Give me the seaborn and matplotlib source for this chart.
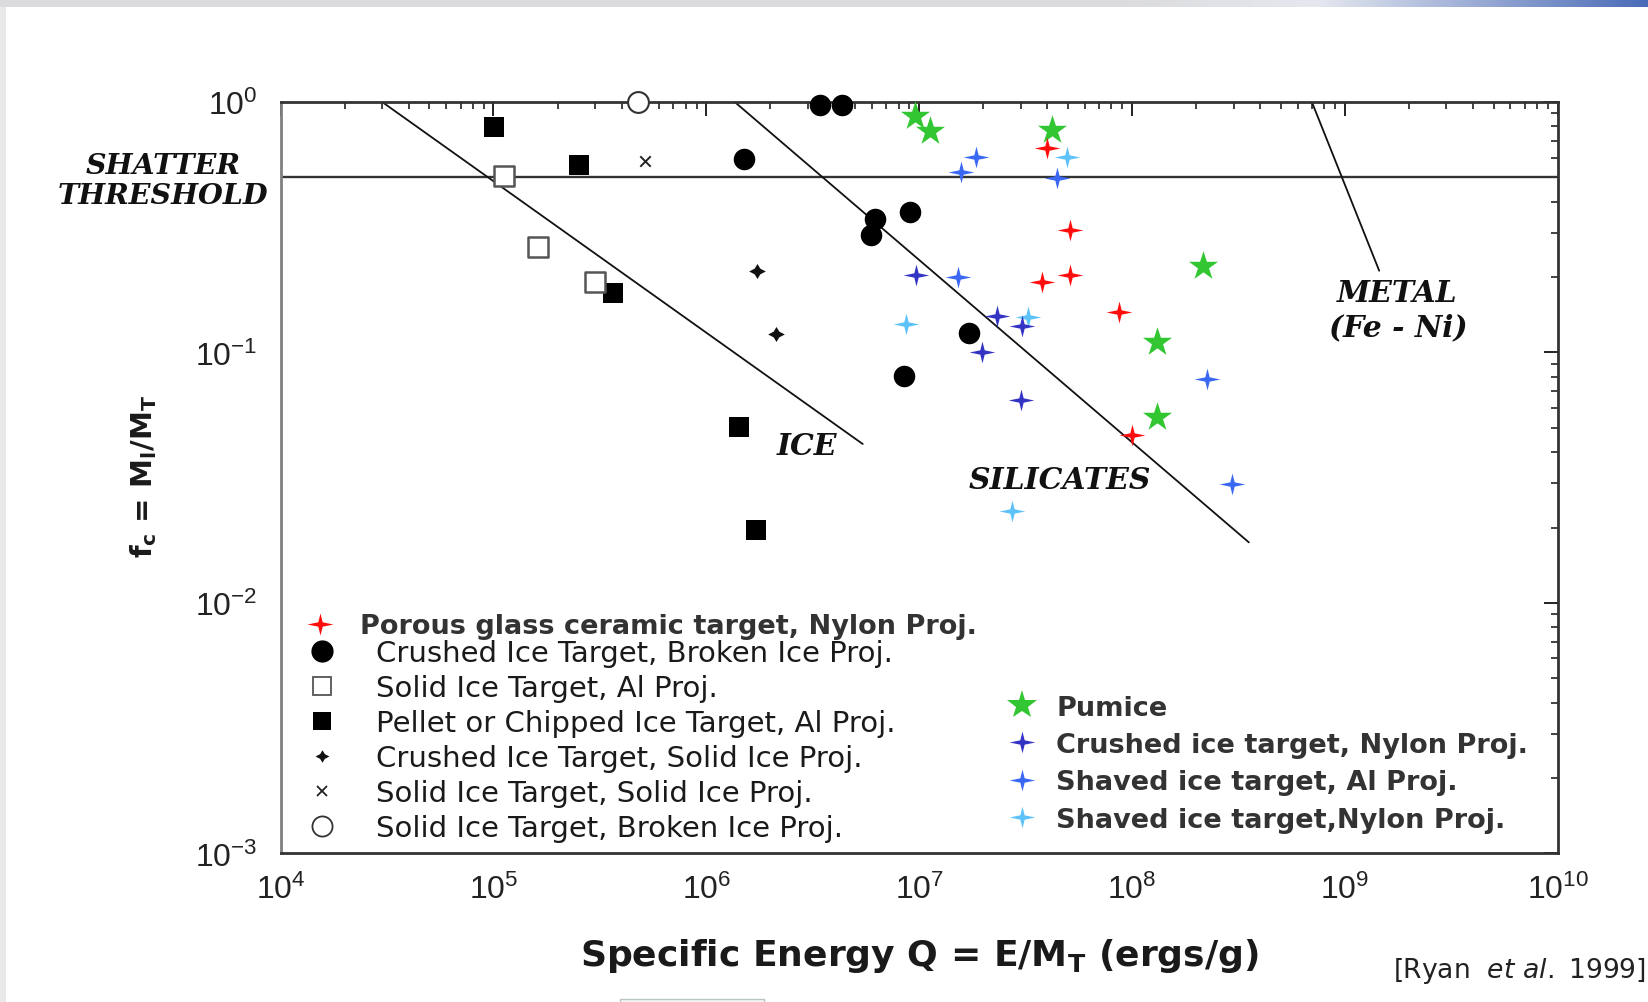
import numpy as np
import pandas as pd
import matplotlib
matplotlib.use("Agg")
import matplotlib.pyplot as plt
import seaborn as sns
from matplotlib.path import Path
from matplotlib.lines import Line2D
from matplotlib.patches import Rectangle

# ---------------- data ----------------
porous_q = [3.97e7, 5.13e7, 3.78e7, 5.13e7, 8.69e7, 1.00e8]
porous_f = [0.655, 0.308, 0.1905, 0.204, 0.1445, 0.0468]

pumice_q = [9.55e6, 1.13e7, 4.21e7, 2.15e8, 1.31e8, 1.31e8]
pumice_f = [0.882, 0.768, 0.775, 0.221, 0.1097, 0.0550]

crushed_nylon_q = [9.68e6, 2.31e7, 3.05e7, 1.98e7, 3.01e7]
crushed_nylon_f = [0.204, 0.1394, 0.128, 0.100, 0.0646]

shaved_al_q = [1.85e7, 1.57e7, 4.44e7, 1.52e7, 2.26e8, 2.95e8]
shaved_al_f = [0.601, 0.527, 0.497, 0.201, 0.0783, 0.0298]

shaved_nylon_q = [4.94e7, 8.71e6, 3.23e7, 2.72e7]
shaved_nylon_f = [0.601, 0.130, 0.138, 0.0232]

crushed_broken_q = [3.43e6, 4.32e6, 1.51e6, 6.21e6, 5.92e6, 9.06e6, 1.71e7, 8.47e6]
crushed_broken_f = [0.973, 0.973, 0.592, 0.341, 0.294, 0.365, 0.1195, 0.0802]

solid_al_q = [1.12e5, 1.62e5, 3.00e5]
solid_al_f = [0.508, 0.263, 0.1905]

pellet_al_q = [1.01e5, 2.52e5, 3.65e5, 1.42e6, 1.71e6]
pellet_al_f = [0.792, 0.560, 0.1726, 0.0502, 0.0196]

crushed_solid_q = [1.73e6, 2.13e6]
crushed_solid_f = [0.212, 0.1184]

solid_solid_q = [5.14e5]
solid_solid_f = [0.583]

solid_broken_q = [4.75e5]
solid_broken_f = [1.0]

# regime lines
shatter_f = 0.5
ice_line_q = [3.0e4, 5.43e6]
ice_line_f = [1.0, 0.0431]
sil_line_q = [1.36e6, 3.54e8]
sil_line_f = [1.0, 0.01745]
metal_line_q = [7.0e8, 1.45e9]
metal_line_f = [1.0, 0.212]

labels_left = [
    "Porous glass ceramic target, Nylon Proj.",
    "Crushed Ice Target, Broken Ice Proj.",
    "Solid Ice Target, Al Proj.",
    "Pellet or Chipped Ice Target, Al Proj.",
    "Crushed Ice Target, Solid Ice Proj.",
    "Solid Ice Target, Solid Ice Proj.",
    "Solid Ice Target, Broken Ice Proj.",
]
labels_right = [
    "Pumice",
    "Crushed ice target, Nylon Proj.",
    "Shaved ice target, Al Proj.",
    "Shaved ice target,Nylon Proj.",
]

RED = "#ff0d0d"
GREEN = "#33c633"
DBLUE = "#3434c4"
BLUE = "#3a68f4"
LBLUE = "#5cc2f7"

# ---------------- style ----------------
sns.set_theme(style="white")
plt.rcParams["font.family"] = ["Liberation Sans", "DejaVu Sans"]
plt.rcParams["mathtext.fontset"] = "dejavusans"
plt.rcParams["mathtext.default"] = "regular"
plt.rcParams["axes.unicode_minus"] = True


def star4(inner=0.17, h=0.85):
    v = [(0, h), (inner, inner), (1, 0), (inner, -inner), (0, -h),
         (-inner, -inner), (-1, 0), (-inner, inner), (0, h)]
    codes = [Path.MOVETO] + [Path.LINETO] * 7 + [Path.CLOSEPOLY]
    return Path(v, codes)


STAR4 = star4()
PLUS4 = star4(inner=0.34, h=0.9)

PX = 0.72  # points per pixel at dpi 100

fig = plt.figure(figsize=(16.48, 10.03), dpi=100)
fig.patch.set_facecolor("white")

# slide-like decoration strips
grad = np.linspace(0, 1, 400)
cols = np.zeros((1, 400, 3))
c0 = np.array([0.86, 0.86, 0.87])
c1 = np.array([0.90, 0.91, 0.94])
c2 = np.array([0.29, 0.42, 0.72])
for i, g in enumerate(grad):
    if g < 0.68:
        cols[0, i] = c0
    elif g < 0.8:
        t = (g - 0.68) / 0.12
        cols[0, i] = c0 * (1 - t) + c1 * t
    else:
        t = (g - 0.8) / 0.2
        cols[0, i] = c1 * (1 - t) + c2 * t
top = fig.add_axes([0, 1 - 8 / 1003, 1, 8 / 1003])
top.imshow(cols, aspect="auto")
top.set_axis_off()
fig.patches.append(Rectangle((0, 0), 6 / 1648, 1 - 8 / 1003, transform=fig.transFigure,
                             facecolor="#e9e9e9", edgecolor="none"))
fig.patches.append(Rectangle((620 / 1648, -0.01), 144 / 1648, 0.013, transform=fig.transFigure,
                             facecolor="#f4f6f6", edgecolor="#b9c4c4", lw=1))

ax = fig.add_axes([0.1703, 0.1482, 0.7749, 0.7491])
ax.set_xscale("log")
ax.set_yscale("log")
ax.set_xlim(1e4, 1e10)
ax.set_ylim(1e-3, 1.0)
ax.set_facecolor("white")

# regime lines
ax.axhline(shatter_f, color="#333333", lw=1.7, zorder=2)
for qq, ff in [(ice_line_q, ice_line_f), (sil_line_q, sil_line_f), (metal_line_q, metal_line_f)]:
    sns.lineplot(x=qq, y=ff, ax=ax, color="#111111", lw=1.3, sort=False,
                 estimator=None, legend=False, zorder=2)

# data points
common = dict(ax=ax, legend=False, zorder=4, clip_on=False)
sns.scatterplot(x=crushed_broken_q, y=crushed_broken_f, marker="o", s=(15.5) ** 2,
                color="black", edgecolor="black", linewidth=0, **common)
sns.scatterplot(x=pellet_al_q, y=pellet_al_f, marker="s", s=(14.5) ** 2,
                color="black", edgecolor="black", linewidth=0, **common)
sns.scatterplot(x=solid_al_q, y=solid_al_f, marker="s", s=(14) ** 2,
                facecolor="white", edgecolor="#555555", linewidth=1.8, **common)
sns.scatterplot(x=crushed_solid_q, y=crushed_solid_f, marker=PLUS4, s=(12) ** 2,
                color="#111111", edgecolor="#111111", linewidth=0, **common)
sns.scatterplot(x=solid_solid_q, y=solid_solid_f, marker="x", s=(7.5) ** 2,
                color="#222222", linewidth=1.4, **common)
sns.scatterplot(x=solid_broken_q, y=solid_broken_f, marker="o", s=(15) ** 2,
                facecolor="white", edgecolor="#333333", linewidth=1.5, **common)
sns.scatterplot(x=pumice_q, y=pumice_f, marker="*", s=(22) ** 2,
                color=GREEN, edgecolor=GREEN, linewidth=0, **common)
sns.scatterplot(x=shaved_al_q, y=shaved_al_f, marker=STAR4, s=(18.5) ** 2,
                color=BLUE, edgecolor=BLUE, linewidth=0, **common)
sns.scatterplot(x=shaved_nylon_q, y=shaved_nylon_f, marker=STAR4, s=(18.5) ** 2,
                color=LBLUE, edgecolor=LBLUE, linewidth=0, **common)
sns.scatterplot(x=crushed_nylon_q, y=crushed_nylon_f, marker=STAR4, s=(18.5) ** 2,
                color=DBLUE, edgecolor=DBLUE, linewidth=0, **common)
sns.scatterplot(x=porous_q, y=porous_f, marker=STAR4, s=(18.5) ** 2,
                color=RED, edgecolor=RED, linewidth=0, **common)

# axes styling
for side, sp in ax.spines.items():
    sp.set_visible(True)
    sp.set_linewidth(2.0)
    sp.set_color("#333333")
ax.spines["left"].set_color("#808080")
ax.tick_params(which="both", direction="in", top=True, right=True, colors="#222222")
ax.tick_params(which="major", length=10, width=1.4, labelsize=23, pad=15)
ax.tick_params(which="minor", length=5, width=1.2)
ax.tick_params(axis="y", which="major", pad=17)
ax.xaxis.set_major_locator(matplotlib.ticker.LogLocator(base=10, numticks=10))
ax.yaxis.set_major_locator(matplotlib.ticker.LogLocator(base=10, numticks=10))
ax.xaxis.set_minor_locator(matplotlib.ticker.LogLocator(base=10, subs=np.arange(2, 10), numticks=100))
ax.yaxis.set_minor_locator(matplotlib.ticker.LogLocator(base=10, subs=np.arange(2, 10), numticks=100))
ax.xaxis.set_minor_formatter(matplotlib.ticker.NullFormatter())
ax.yaxis.set_minor_formatter(matplotlib.ticker.NullFormatter())
ax.grid(False)

ax.set_xlabel("Specific Energy Q = E/M$_T$ (ergs/g)", family="DejaVu Sans",
              weight="bold", size=26, color="#1a1a1a")
ax.xaxis.set_label_coords(0.5, -0.110)
ax.set_ylabel("f$_c$ = M$_l$/M$_T$", family="DejaVu Sans", weight="bold",
              size=21, color="#1a1a1a")
ax.yaxis.set_label_coords(-0.095, 0.503)

# annotations
serif = dict(family="DejaVu Serif", weight="bold", style="italic", color="#111111")
ax.text(2.98e6, 0.0427, "ICE", ha="center", va="center", size=21.5, **serif)
ax.text(4.58e7, 0.0312, "SILICATES", ha="center", va="center", size=21.5, **serif)
ax.text(1.77e9, 0.174, "METAL", ha="center", va="center", size=21.5, **serif)
ax.text(1.79e9, 0.126, "(Fe - Ni)", ha="center", va="center", size=21.5, **serif)
fig.text(163 / 1648, 1 - 181.5 / 1003, "SHATTER\nTHRESHOLD", ha="center", va="center",
         size=20.5, linespacing=1.15, **serif)

fig.text(1646 / 1648, 1 - 971 / 1003, r"[Ryan  $\mathit{et\ al.}$ 1999]", ha="right",
         va="center", size=19.2, family="DejaVu Sans", color="#222222")

# legends
def h(marker, ms, fc, ec=None, mew=0.0):
    return Line2D([], [], linestyle="none", marker=marker, markersize=ms,
                  markerfacecolor=fc, markeredgecolor=ec if ec else fc, markeredgewidth=mew)

FS = 19.5
legA = ax.legend(handles=[h(STAR4, 26 * PX, RED)], labels=[labels_left[0]],
                 loc="upper left", bbox_to_anchor=(306.5 / 1648, 1 - 614.5 / 1003),
                 bbox_transform=fig.transFigure, frameon=False, borderpad=0,
                 borderaxespad=0, handlelength=1.0, handletextpad=0.98,
                 prop=dict(family="DejaVu Sans", weight="bold", size=FS),
                 labelcolor="#333333")
ax.add_artist(legA)

FSB = 21
hB = [
    h("o", 16, "black"),
    h("s", 12.5, "white", "#555555", 1.3),
    h("s", 13.5, "black"),
    h(PLUS4, 10, "#111111"),
    h("x", 6.5, "#222222", "#222222", 1.3),
    h("o", 14.5, "white", "#333333", 1.3),
]
legB = ax.legend(handles=hB, labels=labels_left[1:], loc="upper left",
                 bbox_to_anchor=(307.5 / 1648, 1 - 640 / 1003),
                 bbox_transform=fig.transFigure, frameon=False, borderpad=0,
                 borderaxespad=0, handlelength=1.0, handletextpad=1.35,
                 labelspacing=0.24, prop=dict(family="DejaVu Sans", size=FSB),
                 labelcolor="#1a1a1a")
ax.add_artist(legB)

hC = [
    h("*", 22, GREEN),
    h(STAR4, 18.5, DBLUE),
    h(STAR4, 18.5, BLUE),
    h(STAR4, 18.5, LBLUE),
]
legC = ax.legend(handles=hC, labels=labels_right, loc="upper left",
                 bbox_to_anchor=(1008 / 1648, 1 - 695.5 / 1003),
                 bbox_transform=fig.transFigure, frameon=False, borderpad=0,
                 borderaxespad=0, handlelength=1.0, handletextpad=0.79,
                 labelspacing=0.42, prop=dict(family="DejaVu Sans", weight="bold", size=FS),
                 labelcolor="#333333")

fig.savefig("out.png", dpi=100, facecolor="white")
